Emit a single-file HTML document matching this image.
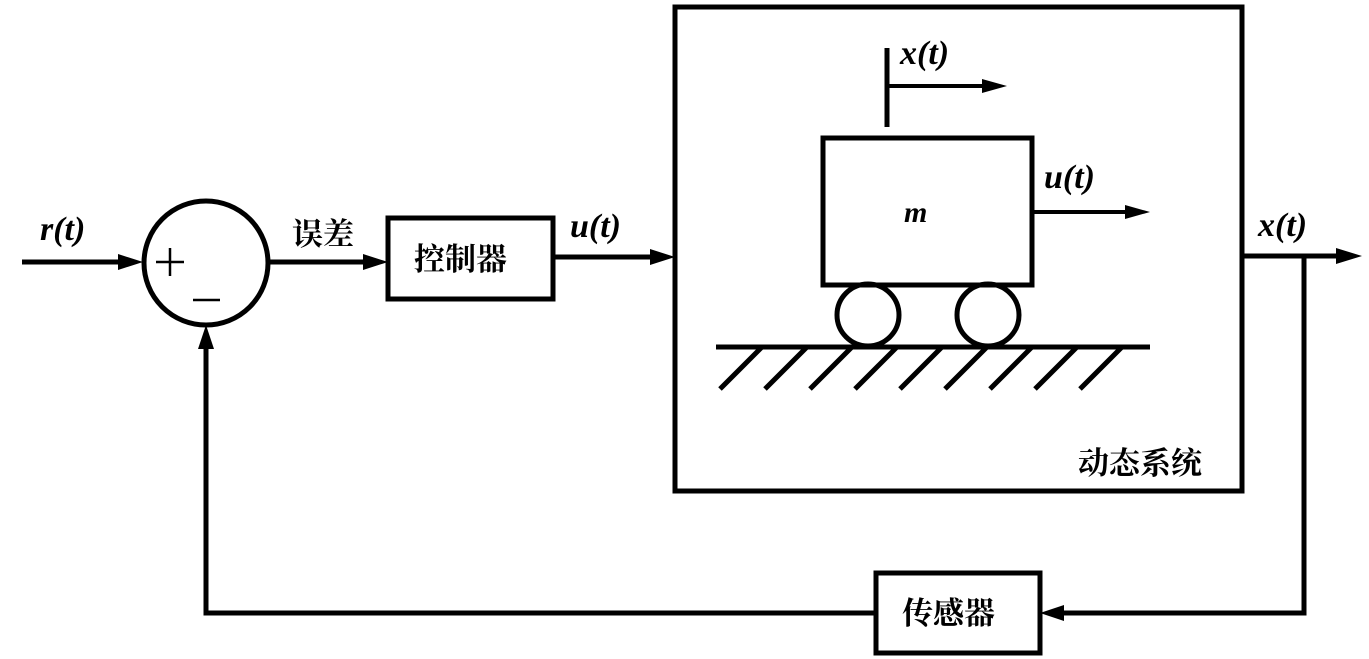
<!DOCTYPE html>
<html><head><meta charset="utf-8"><style>
html,body{margin:0;padding:0;background:#fff;}
svg{display:block}
.m{font-family:"Liberation Serif",serif;font-style:italic;font-weight:bold;font-size:34px}
.c{font-family:"Liberation Serif","Noto Serif CJK SC","Noto Sans CJK SC",serif;font-weight:bold;font-size:31px}
</style></head><body>
<svg width="1369" height="659" viewBox="0 0 1369 659" xmlns="http://www.w3.org/2000/svg">
<defs>
<marker id="a" markerWidth="10" markerHeight="8" refX="9" refY="4" orient="auto" markerUnits="userSpaceOnUse" viewBox="0 0 10 8">
</marker>
</defs>
<g stroke="#000" stroke-width="5" fill="none">
<!-- input -->
<line x1="22" y1="262" x2="122" y2="262"/>
<line x1="268" y1="262" x2="368" y2="262"/>
<line x1="553" y1="257" x2="655" y2="257"/>
<ellipse cx="206" cy="263" rx="62" ry="62"/>
<rect x="388" y="218" width="165" height="81"/>
<rect x="675" y="7" width="567" height="484"/>
<rect x="823" y="138" width="209" height="147"/>
<circle cx="868" cy="315" r="31"/>
<circle cx="988" cy="315" r="31"/>
<line x1="716" y1="347" x2="1150" y2="347"/>
<line x1="887" y1="48" x2="887" y2="127"/>
<line x1="887" y1="86" x2="985" y2="86" stroke-width="4"/>
<line x1="1032" y1="212" x2="1128" y2="212" stroke-width="4"/>
<line x1="1242" y1="256" x2="1338" y2="256"/>
<polyline points="1304,256 1304,613 1060,613"/>
<rect x="876" y="573" width="164" height="80"/>
<polyline points="876,613 206,613 206,346"/>
</g>
<g stroke="#000" stroke-width="5">
<line x1="720" y1="389" x2="762" y2="347"/>
<line x1="765" y1="389" x2="807" y2="347"/>
<line x1="810" y1="389" x2="852" y2="347"/>
<line x1="855" y1="389" x2="897" y2="347"/>
<line x1="900" y1="389" x2="942" y2="347"/>
<line x1="945" y1="389" x2="987" y2="347"/>
<line x1="990" y1="389" x2="1032" y2="347"/>
<line x1="1035" y1="389" x2="1077" y2="347"/>
<line x1="1080" y1="389" x2="1122" y2="347"/>
</g>
<g fill="#000">
<polygon points="143,262 118,254 118,270"/>
<polygon points="388,262 363,254 363,270"/>
<polygon points="675,257 650,249 650,265"/>
<polygon points="1007,86 982,79 982,93"/>
<polygon points="1150,212 1125,205 1125,219"/>
<polygon points="1362,256 1336,248 1336,264"/>
<polygon points="1040,613 1064,605 1064,621"/>
<polygon points="206,325 198,349 214,349"/>
</g>
<g stroke="#000" stroke-width="2.5">
<line x1="156" y1="262" x2="184" y2="262"/>
<line x1="170" y1="248" x2="170" y2="276"/>
<line x1="193" y1="300" x2="220" y2="300"/>
</g>
<text class="m" x="40" y="240">r(t)</text>
<text class="c" x="292" y="245">误差</text>
<text class="c" x="414" y="270">控制器</text>
<text class="m" x="570" y="237">u(t)</text>
<text class="m" x="900" y="64">x(t)</text>
<text class="m" x="1044" y="188">u(t)</text>
<text class="m" x="904" y="222" style="font-size:30px">m</text>
<text class="m" x="1258" y="236">x(t)</text>
<text class="c" x="1078" y="474">动态系统</text>
<text class="c" x="902" y="624">传感器</text>
</svg>
</body></html>
